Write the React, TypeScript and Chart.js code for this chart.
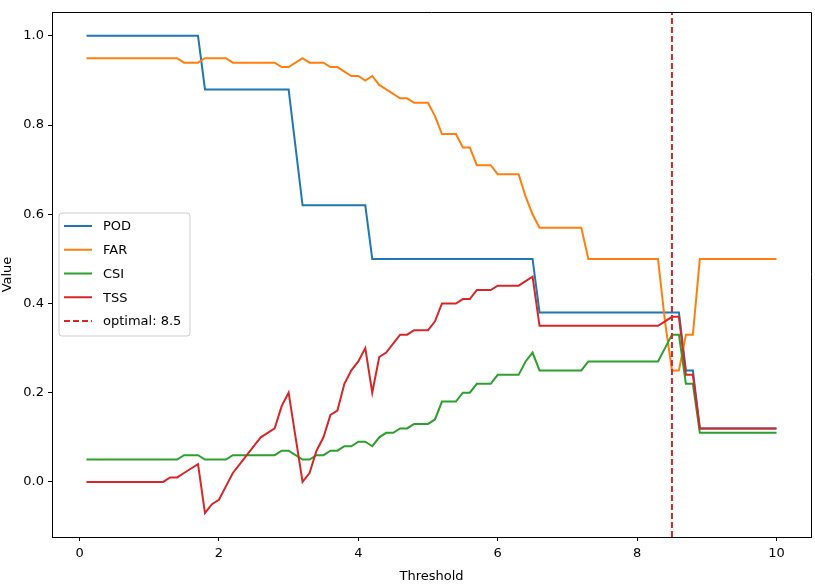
import React, { useEffect, useRef } from "react";
import { Chart, registerables } from "chart.js";

Chart.register(...registerables);

// ---------- data ----------
const thresholds = [
  0.1, 0.2, 0.3, 0.4, 0.5, 0.6, 0.7, 0.8, 0.9, 1.0,
  1.1, 1.2, 1.3, 1.4, 1.5, 1.6, 1.7, 1.8, 1.9, 2.0,
  2.1, 2.2, 2.3, 2.4, 2.5, 2.6, 2.7, 2.8, 2.9, 3.0,
  3.1, 3.2, 3.3, 3.4, 3.5, 3.6, 3.7, 3.8, 3.9, 4.0,
  4.1, 4.2, 4.3, 4.4, 4.5, 4.6, 4.7, 4.8, 4.9, 5.0,
  5.1, 5.2, 5.3, 5.4, 5.5, 5.6, 5.7, 5.8, 5.9, 6.0,
  6.1, 6.2, 6.3, 6.4, 6.5, 6.6, 6.7, 6.8, 6.9, 7.0,
  7.1, 7.2, 7.3, 7.4, 7.5, 7.6, 7.7, 7.8, 7.9, 8.0,
  8.1, 8.2, 8.3, 8.4, 8.5, 8.6, 8.7, 8.8, 8.9, 9.0,
  9.1, 9.2, 9.3, 9.4, 9.5, 9.6, 9.7, 9.8, 9.9, 10.0,
];

const pod = [
  1, 1, 1, 1, 1, 1, 1, 1, 1, 1,
  1, 1, 1, 1, 1, 1, 1, 0.88, 0.88, 0.88,
  0.88, 0.88, 0.88, 0.88, 0.88, 0.88, 0.88, 0.88, 0.88, 0.88,
  0.75, 0.62, 0.62, 0.62, 0.62, 0.62, 0.62, 0.62, 0.62, 0.62,
  0.62, 0.5, 0.5, 0.5, 0.5, 0.5, 0.5, 0.5, 0.5, 0.5,
  0.5, 0.5, 0.5, 0.5, 0.5, 0.5, 0.5, 0.5, 0.5, 0.5,
  0.5, 0.5, 0.5, 0.5, 0.5, 0.38, 0.38, 0.38, 0.38, 0.38,
  0.38, 0.38, 0.38, 0.38, 0.38, 0.38, 0.38, 0.38, 0.38, 0.38,
  0.38, 0.38, 0.38, 0.38, 0.38, 0.38, 0.25, 0.25, 0.12, 0.12,
  0.12, 0.12, 0.12, 0.12, 0.12, 0.12, 0.12, 0.12, 0.12, 0.12,
];

const far = [
  0.95, 0.95, 0.95, 0.95, 0.95, 0.95, 0.95, 0.95, 0.95, 0.95,
  0.95, 0.95, 0.95, 0.95, 0.94, 0.94, 0.94, 0.95, 0.95, 0.95,
  0.95, 0.94, 0.94, 0.94, 0.94, 0.94, 0.94, 0.94, 0.93, 0.93,
  0.94, 0.95, 0.94, 0.94, 0.94, 0.93, 0.93, 0.92, 0.91, 0.91,
  0.9, 0.91, 0.89, 0.88, 0.87, 0.86, 0.86, 0.85, 0.85, 0.85,
  0.82, 0.78, 0.78, 0.78, 0.75, 0.75, 0.71, 0.71, 0.71, 0.69,
  0.69, 0.69, 0.69, 0.64, 0.6, 0.57, 0.57, 0.57, 0.57, 0.57,
  0.57, 0.57, 0.5, 0.5, 0.5, 0.5, 0.5, 0.5, 0.5, 0.5,
  0.5, 0.5, 0.5, 0.36, 0.25, 0.25, 0.33, 0.33, 0.5, 0.5,
  0.5, 0.5, 0.5, 0.5, 0.5, 0.5, 0.5, 0.5, 0.5, 0.5,
];

const csi = [
  0.05, 0.05, 0.05, 0.05, 0.05, 0.05, 0.05, 0.05, 0.05, 0.05,
  0.05, 0.05, 0.05, 0.05, 0.06, 0.06, 0.06, 0.05, 0.05, 0.05,
  0.05, 0.06, 0.06, 0.06, 0.06, 0.06, 0.06, 0.06, 0.07, 0.07,
  0.06, 0.05, 0.05, 0.06, 0.06, 0.07, 0.07, 0.08, 0.08, 0.09,
  0.09, 0.08, 0.1, 0.11, 0.11, 0.12, 0.12, 0.13, 0.13, 0.13,
  0.14, 0.18, 0.18, 0.18, 0.2, 0.2, 0.22, 0.22, 0.22, 0.24,
  0.24, 0.24, 0.24, 0.27, 0.29, 0.25, 0.25, 0.25, 0.25, 0.25,
  0.25, 0.25, 0.27, 0.27, 0.27, 0.27, 0.27, 0.27, 0.27, 0.27,
  0.27, 0.27, 0.27, 0.3, 0.33, 0.33, 0.22, 0.22, 0.11, 0.11,
  0.11, 0.11, 0.11, 0.11, 0.11, 0.11, 0.11, 0.11, 0.11, 0.11,
];

const tss = [
  0, 0, 0, 0, 0, 0, 0, 0, 0, 0,
  0, 0, 0.01, 0.01, 0.02, 0.03, 0.04, -0.07, -0.05, -0.04,
  -0.01, 0.02, 0.04, 0.06, 0.08, 0.1, 0.11, 0.12, 0.17, 0.2,
  0.1, 0.0, 0.02, 0.07, 0.1, 0.15, 0.16, 0.22, 0.25, 0.27,
  0.3, 0.2, 0.28, 0.29, 0.31, 0.33, 0.33, 0.34, 0.34, 0.34,
  0.36, 0.4, 0.4, 0.4, 0.41, 0.41, 0.43, 0.43, 0.43, 0.44,
  0.44, 0.44, 0.44, 0.45, 0.46, 0.35, 0.35, 0.35, 0.35, 0.35,
  0.35, 0.35, 0.35, 0.35, 0.35, 0.35, 0.35, 0.35, 0.35, 0.35,
  0.35, 0.35, 0.35, 0.36, 0.37, 0.37, 0.24, 0.24, 0.12, 0.12,
  0.12, 0.12, 0.12, 0.12, 0.12, 0.12, 0.12, 0.12, 0.12, 0.12,
];

const optimalThreshold = 8.5;
const seriesLabels = ["POD", "FAR", "CSI", "TSS", "optimal: 8.5"];
const xTicks = [0, 2, 4, 6, 8, 10];
const yTicks = [0.0, 0.2, 0.4, 0.6, 0.8, 1.0];
const xMin = -0.395;
const xMax = 10.495;
const yMin = -0.1235;
const yMax = 1.0535;

// ---------- style ----------
const FONT = "'DejaVu Sans', 'Liberation Sans', sans-serif";
const COLORS = ["#1f77b4", "#ff7f0e", "#2ca02c", "#d62728", "#d62728"];

const pts = (ys: number[]) => thresholds.map((x, i) => ({ x, y: ys[i] }));

const framePlugin = {
  id: "frame",
  afterDraw(chart: any) {
    const { ctx, chartArea } = chart;
    const { left, right, top, bottom } = chartArea;
    ctx.save();
    ctx.strokeStyle = "#000";
    ctx.lineWidth = 1;
    ctx.beginPath();
    ctx.moveTo(left, top + 0.5);
    ctx.lineTo(right + 0.5, top + 0.5);
    ctx.lineTo(right + 0.5, bottom);
    ctx.stroke();
    ctx.restore();
  },
};

const legendPlugin = {
  id: "mplLegend",
  afterDraw(chart: any) {
    const { ctx, chartArea } = chart;
    const ds = chart.data.datasets;
    const w = 131;
    const rowH = 23.75;
    const h = 123;
    const x0 = chartArea.left + 7;
    const y0 = (chartArea.top + chartArea.bottom) / 2 - h / 2;
    ctx.save();
    // box
    const r = 3;
    ctx.beginPath();
    ctx.moveTo(x0 + r, y0);
    ctx.lineTo(x0 + w - r, y0);
    ctx.quadraticCurveTo(x0 + w, y0, x0 + w, y0 + r);
    ctx.lineTo(x0 + w, y0 + h - r);
    ctx.quadraticCurveTo(x0 + w, y0 + h, x0 + w - r, y0 + h);
    ctx.lineTo(x0 + r, y0 + h);
    ctx.quadraticCurveTo(x0, y0 + h, x0, y0 + h - r);
    ctx.lineTo(x0, y0 + r);
    ctx.quadraticCurveTo(x0, y0, x0 + r, y0);
    ctx.closePath();
    ctx.fillStyle = "rgba(255,255,255,0.8)";
    ctx.fill();
    ctx.strokeStyle = "#cccccc";
    ctx.lineWidth = 1;
    ctx.stroke();
    // entries
    ctx.font = `13px ${FONT}`;
    ctx.textBaseline = "middle";
    ctx.textAlign = "left";
    ds.forEach((d: any, i: number) => {
      const cy = y0 + 13 + i * rowH;
      ctx.beginPath();
      ctx.strokeStyle = d.borderColor;
      ctx.lineWidth = 2;
      ctx.setLineDash(d.borderDash || []);
      ctx.moveTo(x0 + 5, cy);
      ctx.lineTo(x0 + 33, cy);
      ctx.stroke();
      ctx.setLineDash([]);
      ctx.fillStyle = "#000";
      ctx.fillText(d.label, x0 + 44, cy + 1);
    });
    ctx.restore();
  },
};

export default function App() {
  const ref = useRef<HTMLCanvasElement | null>(null);

  useEffect(() => {
    if (!ref.current) return;
    const mk = (i: number, ys: number[]) => ({
      label: seriesLabels[i],
      data: pts(ys),
      borderColor: COLORS[i],
      backgroundColor: COLORS[i],
      borderWidth: 2,
      pointRadius: 0,
      tension: 0,
      fill: false,
      order: 5 - i,
    });
    const chart = new Chart(ref.current, {
      type: "line",
      data: {
        datasets: [
          mk(0, pod),
          mk(1, far),
          mk(2, csi),
          mk(3, tss),
          {
            label: seriesLabels[4],
            data: [
              { x: optimalThreshold, y: yMin },
              { x: optimalThreshold, y: yMax },
            ],
            borderColor: COLORS[4],
            backgroundColor: COLORS[4],
            borderWidth: 2,
            borderDash: [6, 3],
            pointRadius: 0,
            fill: false,
            order: 0,
          } as any,
        ],
      },
      options: {
        animation: false,
        responsive: false,
        maintainAspectRatio: false,
        layout: { padding: { left: 0, right: 4, top: 12, bottom: 0 } },
        plugins: {
          legend: { display: false },
          tooltip: { enabled: false },
        },
        scales: {
          x: {
            type: "linear",
            min: xMin,
            max: xMax,
            afterBuildTicks: (s: any) => {
              s.ticks = xTicks.map((v) => ({ value: v }));
            },
            afterFit: (s: any) => {
              s.height = 47;
            },
            ticks: {
              color: "#000",
              font: { family: FONT, size: 13 },
              padding: 5,
              maxRotation: 0,
              callback: (v: any) => String(v),
            },
            grid: {
              display: true,
              drawOnChartArea: false,
              drawTicks: true,
              tickLength: 4,
              tickColor: "#000",
            },
            border: { display: true, color: "#000", width: 1 },
            title: {
              display: true,
              text: "Threshold",
              color: "#000",
              font: { family: FONT, size: 13 },
              padding: { top: 0, bottom: 0 },
            },
          },
          y: {
            type: "linear",
            min: yMin,
            max: yMax,
            afterBuildTicks: (s: any) => {
              s.ticks = yTicks.map((v) => ({ value: v }));
            },
            afterFit: (s: any) => {
              s.width = 52;
            },
            ticks: {
              color: "#000",
              font: { family: FONT, size: 13 },
              padding: 4,
              callback: (v: any) => Number(v).toFixed(1),
            },
            grid: {
              display: true,
              drawOnChartArea: false,
              drawTicks: true,
              tickLength: 4,
              tickColor: "#000",
            },
            border: { display: true, color: "#000", width: 1 },
            title: {
              display: true,
              text: "Value",
              color: "#000",
              font: { family: FONT, size: 13 },
              padding: { top: 0, bottom: 0 },
            },
          },
        },
      },
      plugins: [framePlugin, legendPlugin],
    } as any);
    return () => chart.destroy();
  }, []);

  return (
    <div style={{ position: "absolute", left: 0, top: 0, width: 815, height: 584, background: "#fff" }}>
      <canvas ref={ref} width={815} height={584} style={{ width: 815, height: 584, display: "block" }} />
    </div>
  );
}
